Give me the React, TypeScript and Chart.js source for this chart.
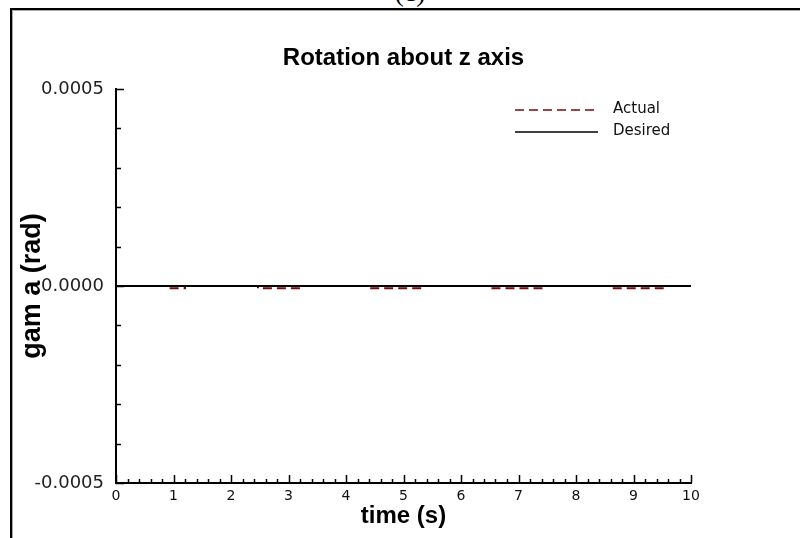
import { useEffect, useRef } from "react";
import { Chart, registerables } from "chart.js";

Chart.register(...registerables);

// Desired rotation about z: held at zero for the whole run
const desiredTime = [0, 10];
const desiredGamma = [0, 0];

// Measured rotation about z: zero apart from tiny negative dips
const actualTime = [0, 0.9, 0.9, 1.2, 1.2, 2.47, 2.47, 3.25, 3.25, 4.42, 4.42, 5.32, 5.32, 6.49, 6.49, 7.46, 7.46, 8.59, 8.59, 9.55, 9.55, 10];
const actualGamma = [0, 0, -6e-6, -6e-6, 0, 0, -6e-6, -6e-6, 0, 0, -6e-6, -6e-6, 0, 0, -6e-6, -6e-6, 0, 0, -6e-6, -6e-6, 0, 0];

const seriesNames = ["Actual", "Desired"];
const labelledGamma = [-0.0005, 0, 0.0005];

const chartTitle = "Rotation about z axis";
const xTitle = "time (s)";
const yTitle = "gam a (rad)";

const isWhole = (v: number) => Math.abs(v - Math.round(v)) < 1e-9;

// Inward-pointing tick marks on both axes
const inwardTicks = {
  id: "inwardTicks",
  afterDraw(chart: any) {
    const { ctx, chartArea, scales } = chart;
    const xs = scales.x;
    const ys = scales.y;
    ctx.save();
    ctx.strokeStyle = "#000";
    ctx.lineWidth = 1.5;
    ctx.beginPath();
    xs.ticks.forEach((t: any) => {
      const px = Math.round(xs.getPixelForValue(t.value)) + 0.5;
      const len = isWhole(t.value) ? 8 : 4;
      ctx.moveTo(px, chartArea.bottom);
      ctx.lineTo(px, chartArea.bottom - len);
    });
    ys.ticks.forEach((t: any) => {
      const py = Math.round(ys.getPixelForValue(t.value)) + 0.5;
      const major = labelledGamma.some((v) => Math.abs(v - t.value) < 1e-12);
      const len = major ? 8 : 5;
      ctx.moveTo(chartArea.left, py);
      ctx.lineTo(chartArea.left + len, py);
    });
    ctx.stroke();
    ctx.restore();
  },
};

// Legend drawn inside the plot, upper right
const innerLegend = {
  id: "innerLegend",
  afterDraw(chart: any) {
    const { ctx, chartArea } = chart;
    const x0 = chartArea.left + 399;
    const lineLen = 83;
    const rows = [chartArea.top + 21, chartArea.top + 43];
    ctx.save();
    seriesNames.forEach((name, i) => {
      const ds = chart.data.datasets.find((d: any) => d.label === name);
      const y = rows[i];
      ctx.strokeStyle = ds.borderColor;
      ctx.lineWidth = 1.5;
      ctx.setLineDash(ds.borderDash || []);
      ctx.beginPath();
      ctx.moveTo(x0, y);
      ctx.lineTo(x0 + lineLen, y);
      ctx.stroke();
      ctx.setLineDash([]);
      ctx.fillStyle = "#111";
      ctx.font = "15px 'DejaVu Sans'";
      ctx.textBaseline = "middle";
      ctx.textAlign = "left";
      ctx.fillText(name, x0 + 98, y - 1);
    });
    ctx.restore();
  },
};

export default function App() {
  const canvasRef = useRef<HTMLCanvasElement | null>(null);

  useEffect(() => {
    const canvas = canvasRef.current;
    if (!canvas) return;
    const chart = new Chart(canvas, {
      type: "line",
      data: {
        datasets: [
          {
            label: seriesNames[0],
            data: actualTime.map((t, i) => ({ x: t, y: actualGamma[i] })),
            borderColor: "#7a0a0a",
            borderWidth: 2,
            borderDash: [9, 5],
            pointRadius: 0,
            fill: false,
            tension: 0,
            order: 1,
          },
          {
            label: seriesNames[1],
            data: desiredTime.map((t, i) => ({ x: t, y: desiredGamma[i] })),
            borderColor: "#000",
            borderWidth: 2,
            pointRadius: 0,
            fill: false,
            tension: 0,
            order: 0,
          },
        ],
      },
      options: {
        responsive: false,
        animation: false,
        devicePixelRatio: 1,
        layout: { padding: { left: 0, top: 46, right: 109, bottom: 0 } },
        plugins: {
          legend: { display: false },
          tooltip: { enabled: false },
          title: {
            display: true,
            fullSize: false,
            text: chartTitle,
            color: "#000",
            font: { family: "'Liberation Sans', Arial", size: 24, weight: "bold", lineHeight: 1.0 },
            padding: { top: 0, bottom: 19 },
          },
        },
        scales: {
          x: {
            type: "linear",
            min: 0,
            max: 10,
            grid: { display: false, drawTicks: false },
            border: { display: true, color: "#000", width: 2 },
            ticks: {
              stepSize: 0.2,
              autoSkip: false,
              maxRotation: 0,
              padding: 5,
              color: "#111",
              font: { family: "'DejaVu Sans'", size: 14 },
              callback: (v: any) => (isWhole(Number(v)) ? String(Math.round(Number(v))) : ""),
            },
            title: {
              display: true,
              text: xTitle,
              color: "#000",
              font: { family: "'Liberation Sans', Arial", size: 24, weight: "bold", lineHeight: 1.2 },
              padding: { top: 0, bottom: 7 },
            },
            afterFit(scale: any) {
              scale.height = 55;
              scale.paddingLeft = 0;
              scale.paddingRight = 0;
            },
          },
          y: {
            type: "linear",
            min: -0.0005,
            max: 0.0005,
            grid: { display: false, drawTicks: false },
            border: { display: true, color: "#000", width: 2 },
            ticks: {
              stepSize: 0.0001,
              autoSkip: false,
              padding: 12,
              color: "#222",
              font: { family: "'DejaVu Sans'", size: 18 },
              callback: (v: any) => {
                const n = Number(v);
                return labelledGamma.some((g) => Math.abs(g - n) < 1e-12) ? (Math.abs(n) < 1e-12 ? 0 : n).toFixed(4) : "";
              },
            },
            title: {
              display: true,
              text: yTitle,
              color: "#000",
              font: { family: "'Liberation Sans', Arial", size: 27, weight: "bold", lineHeight: 1.2 },
              padding: { top: 16, bottom: 0 },
            },
            afterFit(scale: any) {
              scale.width = 116;
              scale.paddingTop = 0;
              scale.paddingBottom = 0;
            },
          },
        },
      },
      plugins: [inwardTicks, innerLegend],
    });
    return () => chart.destroy();
  }, []);

  return (
    <div
      style={{
        position: "fixed",
        left: 0,
        top: 0,
        width: 800,
        height: 538,
        overflow: "hidden",
        background: "#fff",
      }}
    >
      <div
        style={{
          position: "absolute",
          left: 0,
          width: 820,
          top: -24,
          textAlign: "center",
          fontFamily: "'Liberation Serif', 'Times New Roman', serif",
          fontSize: 28,
          lineHeight: "32px",
          color: "#000",
        }}
      >
        (c)
      </div>
      <div
        style={{
          position: "absolute",
          left: 10,
          top: 8,
          width: 820,
          height: 560,
          borderLeft: "2px solid #000",
          borderTop: "2px solid #000",
          boxShadow: "inset 1px 1px 0 #aaa",
        }}
      />
      <canvas ref={canvasRef} width={800} height={538} style={{ position: "absolute", left: 0, top: 0 }} />
    </div>
  );
}
